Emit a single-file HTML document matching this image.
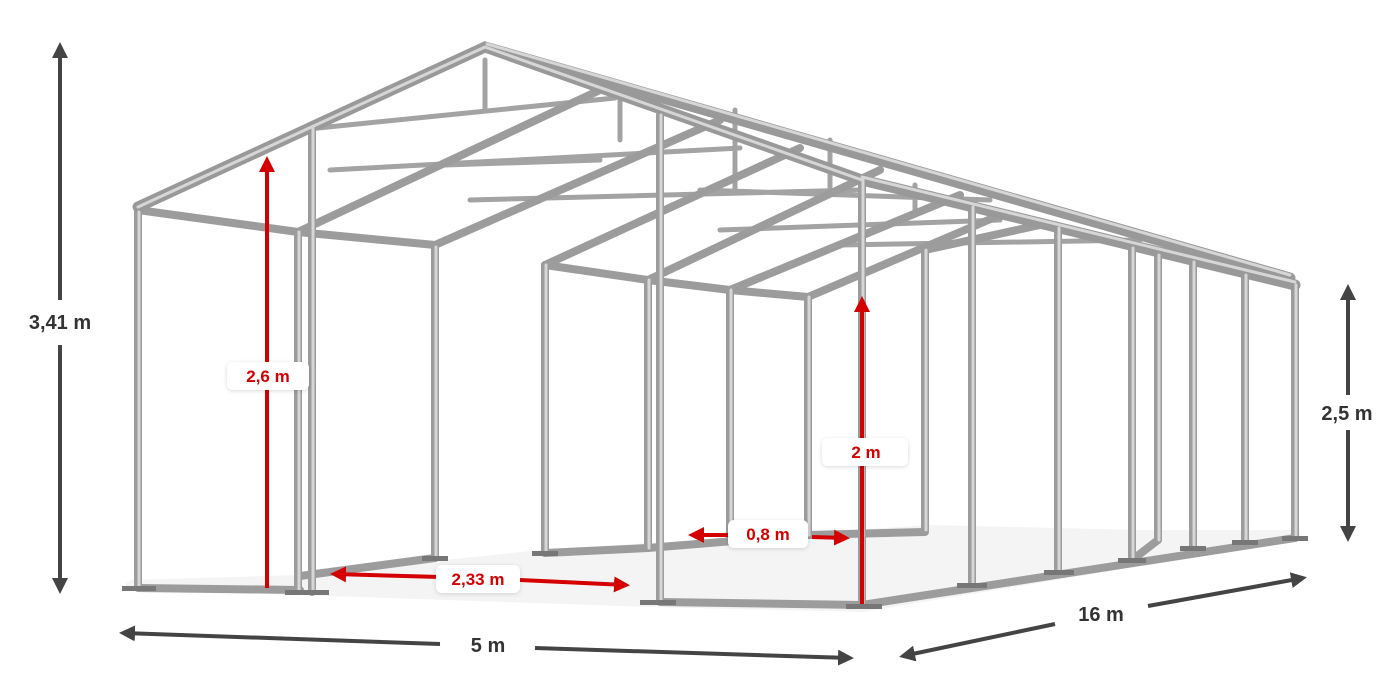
<!DOCTYPE html>
<html><head><meta charset="utf-8"><style>
html,body{margin:0;padding:0;background:#fff;width:1400px;height:700px;overflow:hidden}
svg{display:block}
text{font-family:"Liberation Sans",Arial,sans-serif;font-weight:bold}
</style></head><body>
<svg width="1400" height="700" viewBox="0 0 1400 700" xmlns="http://www.w3.org/2000/svg">
<defs>
<marker id="ad" markerWidth="4" markerHeight="4" refX="3" refY="2" orient="auto" markerUnits="strokeWidth"><path d="M0,0 L4,2 L0,4 Z" fill="#444"/></marker>
<marker id="ar" markerWidth="4" markerHeight="4" refX="3" refY="2" orient="auto" markerUnits="strokeWidth"><path d="M0,0 L4,2 L0,4 Z" fill="#d40000"/></marker>
<filter id="sh" x="-20%" y="-30%" width="140%" height="160%"><feDropShadow dx="0" dy="1" stdDeviation="2" flood-color="#000" flood-opacity="0.15"/></filter>
</defs>
<polygon points="120,590 300,595 650,607 862,612 1300,540 1300,530 1140,530 930,525 540,550 300,575 130,580" fill="#f4f4f4"/>
<g stroke-linecap="round" fill="none">
<g stroke="#a3a3a3" stroke-width="5">
<path d="M318,128 L615,98 M330,170 L740,148 M445,165 L600,160 M470,200 L860,190 M700,190 L990,200 M720,230 L1000,220 M840,245 L1140,240 M485,60 L485,110 M620,85 L620,140 M735,110 L735,190 M830,140 L830,190 M915,185 L915,215"/>
</g>
<g stroke="#9c9c9c" stroke-width="8">
<path d="M138,210 L298,232 L435,245 M545,265 L648,280 L730,290 L808,297"/>
<path d="M600,90 L298,232 M720,120 L435,245 M800,148 L545,265 M880,170 L648,280 M960,195 L730,290 M1000,215 L808,297 M1040,225 L925,250"/>
<path d="M138,212 L138,585 M298,232 L298,590 M312,127 L312,592 M435,247 L435,558 M545,265 L545,553 M648,280 L648,548 M660,115 L660,600 M730,290 L730,540 M808,297 L808,535 M925,250 L925,530 M862,180 L862,605 M972,207 L972,585 M1058,228 L1058,572 M1132,248 L1132,560 M1158,255 L1158,540 M1193,262 L1193,548 M1245,275 L1245,542 M1295,285 L1295,538"/>
<path d="M138,588 L300,590 M300,576 L435,558 M545,553 L648,548 L808,535 L925,532 M660,602 L862,605 L1295,538 M1132,560 L1158,540"/>
</g>
<g stroke="#999" stroke-width="11">
<path d="M138,207 L485,47 L862,180 M485,47 L1290,278 M862,180 L1295,285"/>
</g>
<g stroke="#d6d6d6" stroke-width="3">
<path d="M138,207 L485,47 L862,180 M487,44 L1290,275 M862,177 L1295,282"/>
<path d="M139,212 L139,585 M313,127 L313,592 M661,115 L661,600 M863,180 L863,605 M973,207 L973,585 M1059,228 L1059,572 M299,232 L299,590 M436,247 L436,558 M546,265 L546,553 M731,290 L731,540 M809,297 L809,535 M1194,262 L1194,548 M1246,275 L1246,542 M1296,285 L1296,538 M926,250 L926,530 M649,280 L649,548 M1133,248 L1133,560 M1159,255 L1159,540"/>
</g>
</g>
<g fill="#777"><rect x="122" y="586" width="34" height="5"/><rect x="285" y="590" width="44" height="5"/><rect x="640" y="600" width="36" height="5"/><rect x="846" y="604" width="36" height="5"/><rect x="957" y="583" width="30" height="5"/><rect x="1044" y="570" width="30" height="5"/><rect x="1118" y="558" width="28" height="5"/><rect x="1180" y="546" width="26" height="5"/><rect x="1232" y="540" width="26" height="5"/><rect x="1282" y="536" width="26" height="5"/><rect x="532" y="551" width="26" height="5"/><rect x="422" y="556" width="26" height="5"/></g>

<g stroke="#444" stroke-width="4" fill="none">
<path d="M60,300 L60,46" marker-end="url(#ad)"/><path d="M60,345 L60,590" marker-end="url(#ad)"/>
<path d="M1348,395 L1348,288" marker-end="url(#ad)"/><path d="M1348,430 L1348,538" marker-end="url(#ad)"/>
<path d="M440,644 L123,633" marker-end="url(#ad)"/><path d="M535,648 L850,658" marker-end="url(#ad)"/>
<path d="M1055,624 L903,656" marker-end="url(#ad)"/><path d="M1148,606 L1303,578" marker-end="url(#ad)"/>
</g>
<g fill="#333" font-size="20" text-anchor="middle">
<text x="60" y="329">3,41 m</text>
<text x="1347" y="420">2,5 m</text>
<text x="488" y="652">5 m</text>
<text x="1101" y="621">16 m</text>
</g>
<g stroke="#d40000" stroke-width="4" fill="none">
<path d="M267,588 L267,160" marker-end="url(#ar)"/>
<path d="M862,604 L862,300" marker-end="url(#ar)"/>
<path d="M440,577 L334,574" marker-end="url(#ar)"/><path d="M520,580 L626,585" marker-end="url(#ar)"/>
<path d="M728,535 L692,535" marker-end="url(#ar)"/><path d="M812,537 L846,538" marker-end="url(#ar)"/>
</g>
<g fill="#fff" filter="url(#sh)"><rect x="227" y="362" width="82" height="28" rx="6"/><rect x="822" y="438" width="86" height="28" rx="6"/><rect x="436" y="565" width="84" height="28" rx="6"/><rect x="728" y="520" width="80" height="28" rx="6"/></g>
<g fill="#d40000" font-size="17" text-anchor="middle">
<text x="268" y="382">2,6 m</text>
<text x="866" y="458">2 m</text>
<text x="478" y="585">2,33 m</text>
<text x="768" y="540">0,8 m</text>
</g>
</svg>
</body></html>
